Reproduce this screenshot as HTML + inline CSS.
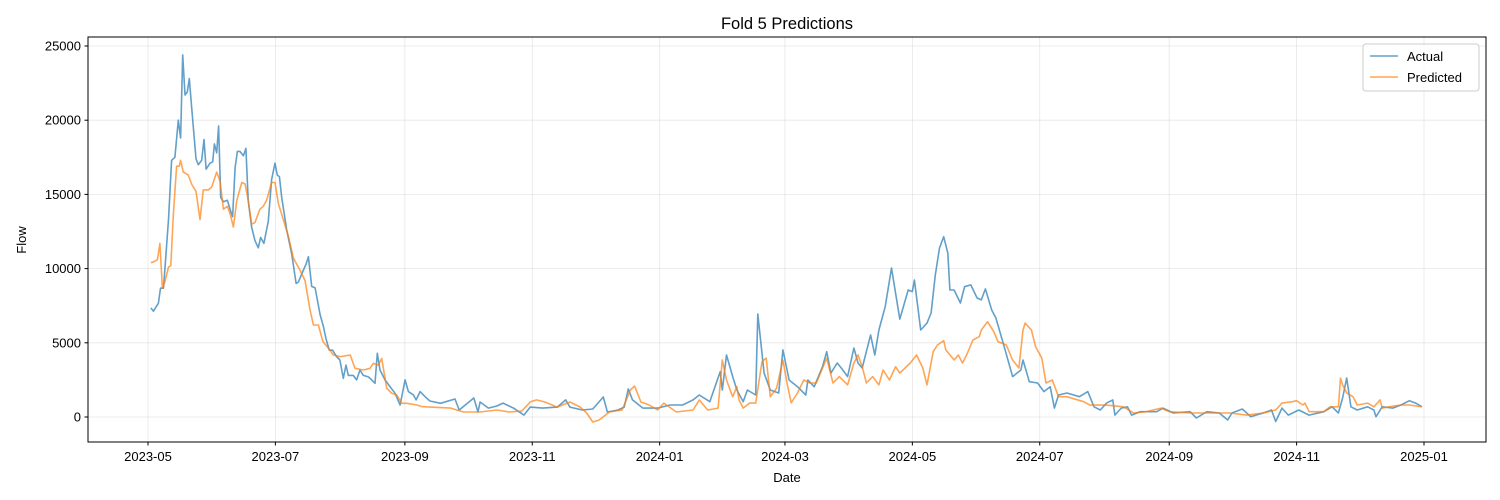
<!DOCTYPE html>
<html><head><meta charset="utf-8">
<style>
html,body{margin:0;padding:0;background:#fff;}
svg{display:block;font-family:"Liberation Sans","DejaVu Sans",sans-serif;}
</style></head>
<body>
<svg id="chart" width="1500" height="500" viewBox="0 0 1500 500" xmlns="http://www.w3.org/2000/svg">
  <rect x="0" y="0" width="1500" height="500" fill="#fff"/>
  <text x="787" y="29" font-size="16.5" text-anchor="middle" fill="#000">Fold 5 Predictions</text>
  <g id="grid"></g>
  <g id="series"></g>
  <rect x="88" y="37" width="1398" height="405" fill="none" stroke="#000" stroke-width="1"/>
  <g id="xaxis"></g>
  <g id="yaxis"></g>
  <text x="787" y="482" font-size="13" text-anchor="middle">Date</text>
  <text x="26" y="240" font-size="13" text-anchor="middle" transform="rotate(-90 26 240)">Flow</text>
  <g>
    <rect x="1363" y="44" width="116" height="47" rx="3" fill="#fff" fill-opacity="0.8" stroke="#ccc"/>
    <line x1="1370" y1="56" x2="1398" y2="56" stroke="#1f77b4" stroke-opacity="0.7" stroke-width="1.6"/>
    <text x="1407" y="61" font-size="13">Actual</text>
    <line x1="1370" y1="77" x2="1398" y2="77" stroke="#ff7f0e" stroke-opacity="0.7" stroke-width="1.6"/>
    <text x="1407" y="82" font-size="13">Predicted</text>
  </g>
</svg>
<script>
// days since 2023-05-01
const actualDays = [1.4,2.6,5,6,7.4,9.8,11.3,12.9,14.5,15.6,16.6,17.7,18.8,19.8,20.9,23,24.1,25.7,26.8,27.8,29.7,31,31.8,32.9,33.8,34.8,36.1,38,39.3,40.5,41.7,42.8,44,45.7,46.9,48,49.6,51.2,52.8,53.9,55.5,57.6,59.2,60.8,61.9,62.9,64,66.4,68.8,70.9,72,74.4,75.7,76.8,78.4,80,82.4,84,85.2,86.8,88.4,90.3,91.9,93.5,94.8,95.9,98.3,99.9,101.5,103.1,105.5,107.1,108.7,109.8,111.1,113.5,115.9,118.3,120.7,123.1,124.7,127.1,128.4,130.3,132.7,135,140,147,149,156,158,159,163,167,170,175,180,183,189,196,200,202,208,213,218,220,225,228,230,232,237,244,250,256,261,264,269,274,275,277,280,282,285,287,291,292,295,298,302,304,307,311,315,316,319,323,325,327,330,332,335,338,340,342,346,348,350,353,356,360,364,366,367,370,373,375,377,379,381,383,384,386,389,391,394,397,399,401,404,406,410,414,418,419,422,426,429,432,434,436,440,446,450,453,456,459,462,463,466,469,471,475,483,486,491,499,502,507,513,517,519,524,528,534,538,540,543,546,551,556,563,567,570,572,574,576,579,584,587,588,591,596,600,604,607,610];
const actualValues = [7350,7130,7670,8680,8680,13300,17300,17500,20000,18800,24400,21700,21900,22800,20900,17400,17000,17300,18700,16700,17100,17200,18400,17800,19600,14800,14500,14600,14000,13500,16800,17900,17900,17600,18100,14600,12800,11900,11400,12100,11700,13200,16000,17100,16300,16200,14800,12600,11000,9000,9100,9900,10300,10800,8800,8700,6900,6100,5300,4500,4500,4060,3840,2600,3500,2800,2800,2500,3170,2800,2700,2500,2270,4290,3170,2500,2050,1600,810,2500,1710,1490,1150,1710,1370,1080,920,1210,470,1280,340,1010,600,740,940,600,130,670,600,670,1150,670,470,540,1350,340,470,670,1890,1150,600,600,810,810,1150,1480,1030,3050,1820,4180,2720,1820,1030,1820,1480,6940,2960,1820,1620,4520,2490,2040,1480,2490,2040,3390,4400,2960,3640,3300,2720,4650,3640,3300,5530,4180,5860,7430,10040,6600,8560,8450,9230,5860,6330,7010,9570,11390,12150,11050,8560,8560,7680,8780,8900,8020,7890,8630,7210,6670,4740,2720,3170,3840,2380,2290,1710,2040,600,1480,1620,1370,1710,690,470,940,1150,130,600,690,130,360,360,600,270,360,-70,360,270,-200,270,540,20,270,470,-300,600,130,470,130,360,690,270,1280,2630,690,470,690,470,20,690,600,810,1100,940,690];
const predDays = [1.4,3.3,4.5,5.7,6.9,8.1,9.8,10.9,12.1,13.7,15,15.6,16.9,19.3,20.9,23,24.9,26.5,28.9,30.5,32.9,34.5,36.1,38,39.3,40.9,42.5,44.9,46.5,48,49.6,51.2,53.6,55.2,56.8,59.2,60.8,62.4,64.8,67.2,69.6,72.8,75.2,77.6,79.2,81.6,83.7,86.4,88.8,92,96.8,99.1,103.1,106.3,107.9,110.3,111.9,114.3,116.7,119.1,121.5,123.9,128.7,131.1,135,145,151,159,167,173,179,183,186,190,196,202,207,210,213,216,221,227,231,233,236,240,244,247,253,261,264,268,273,275,277,280,282,283,285,288,291,294,296,298,301,304,306,308,311,314,317,320,325,328,331,335,338,340,342,344,347,350,352,355,358,360,365,368,371,373,376,378,381,382,386,388,390,392,395,398,399,402,405,407,411,414,417,419,420,423,425,428,430,433,436,440,448,451,459,467,472,478,485,489,499,509,518,526,534,540,543,548,550,553,554,556,563,566,570,571,572,574,577,579,584,587,590,591,594,600,604,610];
const predValues = [10400,10500,10600,11700,8680,9120,10100,10200,13600,16900,16900,17300,16500,16300,15700,15200,13300,15300,15300,15500,16500,15900,14000,14200,13700,12800,14600,15800,15700,14600,13000,13100,14000,14200,14600,15800,15800,14400,13300,12200,10700,9900,9200,7200,6200,6200,5100,4630,4180,4060,4180,3280,3170,3280,3620,3500,3950,1940,1600,1490,920,920,810,700,670,600,340,340,470,340,400,1010,1150,1010,670,1010,670,270,-340,-200,340,470,1820,2090,1010,810,470,940,340,470,1150,470,600,3840,2490,1370,2040,1150,600,940,940,3730,3970,1370,1950,3840,2290,960,1620,2490,2290,2290,3970,2290,2720,2160,3640,4180,3390,2290,2720,2160,3170,2490,3390,2960,3640,4180,3300,2160,4400,4850,5140,4520,3840,4180,3640,4180,5190,5410,5860,6420,5750,5080,4850,3840,3300,5860,6330,5860,4740,3970,2290,2490,1370,1370,1030,800,800,690,270,360,600,360,270,270,270,130,270,470,940,1030,1100,810,940,360,360,690,690,2630,2160,1620,1370,810,940,690,1150,600,690,810,810,690];
const yTicks = [0,5000,10000,15000,20000,25000];
const xTickLabels = ["2023-05","2023-07","2023-09","2023-11","2024-01","2024-03","2024-05","2024-07","2024-09","2024-11","2025-01"];
const xTickDays = [0,61,123,184,245,305,366,427,489,550,611];

const NS = "http://www.w3.org/2000/svg";
const xScale = d => 148 + d * (1276 / 611);
const yScale = v => 417 - v * (371 / 25000);
function mk(tag, attrs, parent) {
  const e = document.createElementNS(NS, tag);
  for (const k in attrs) e.setAttribute(k, attrs[k]);
  parent.appendChild(e);
  return e;
}
const grid = document.getElementById('grid');
const xaxis = document.getElementById('xaxis');
const yaxis = document.getElementById('yaxis');
const series = document.getElementById('series');

yTicks.forEach(v => {
  const y = yScale(v);
  const gl = mk('line', {x1: 88, x2: 1486, y1: y, y2: y, stroke: '#b0b0b0', 'stroke-opacity': 0.3, 'stroke-width': 0.8}, grid);
  
  
  const tk = mk('line', {x1: 84.5, x2: 88, y1: y, y2: y, stroke: '#000'}, yaxis);
  
  
  const t = mk('text', {x: 81, y: y + 4.5, 'font-size': 13, 'text-anchor': 'end'}, yaxis);
  t.textContent = String(v);
  
  
});
xTickDays.forEach((d, i) => {
  const x = xScale(d);
  const gl = mk('line', {x1: x, x2: x, y1: 37, y2: 442, stroke: '#b0b0b0', 'stroke-opacity': 0.3, 'stroke-width': 0.8}, grid);
  
  
  const tk = mk('line', {x1: x, x2: x, y1: 442, y2: 445.5, stroke: '#000'}, xaxis);
  
  
  const t = mk('text', {x: x, y: 461, 'font-size': 13, 'text-anchor': 'middle'}, xaxis);
  t.textContent = xTickLabels[i];
  
  
});
function drawLine(days, vals, color, name) {
  const pts = days.map((d, i) => xScale(d).toFixed(1) + ',' + yScale(vals[i]).toFixed(1)).join(' ');
  const p = mk('polyline', {points: pts, fill: 'none', stroke: color, 'stroke-opacity': 0.7, 'stroke-width': 1.6, 'stroke-linejoin': 'round'}, series);
  
  
}
drawLine(actualDays, actualValues, '#1f77b4', 'actual-line');
drawLine(predDays, predValues, '#ff7f0e', 'predicted-line');
</script>
</body></html>
